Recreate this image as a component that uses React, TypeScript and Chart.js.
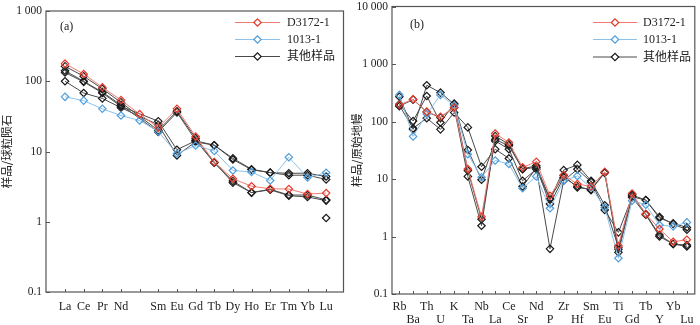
import React, { useEffect, useRef } from 'react';
import { Chart, registerables } from 'chart.js';

Chart.register(...registerables);

// ---------- Panel (a): chondrite-normalised REE ----------
const reeLabels = ['La', 'Ce', 'Pr', 'Nd', '', 'Sm', 'Eu', 'Gd', 'Tb', 'Dy', 'Ho', 'Er', 'Tm', 'Yb', 'Lu'];
const reeD3172 = [178, 127, 82, 54, 34, 22, 40.5, 16.3, 7.1, 4.1, 3.2, 2.95, 2.92, 2.48, 2.56];
const ree1013 = [60, 53, 40.5, 32.5, 27.6, 19.3, 9.3, 12.2, 10.2, 5.37, 5.1, 3.87, 8.3, 4.27, 4.98];
const reeOther1 = [163, 118, 78, 50, null, 20, 37.5, 15.5, 7.0, 3.6, 2.6, 2.9, 2.4, 2.4, 2.05];
const reeOther2 = [141, 100, 70, 46, null, 19, 36, 14.5, 6.9, 3.8, 2.6, 2.85, 2.35, 2.25, 2.0];
const reeOther3 = [133, 98, 68, 44, null, 27, 10.6, 14.2, 12.3, 8.0, 5.6, 5.0, 4.9, 4.9, 4.4];
const reeOther4 = [100, 68, 57, 42, null, 24, 8.8, 13.7, 12.3, 7.7, 5.5, 5.0, 4.6, 4.6, 4.0];
const reeOther5 = [null, null, null, null, null, null, null, null, null, null, null, null, null, null, 1.13];
const reeYTicks = [0.1, 1, 10, 100, 1000];
const reeYTickLabels = ['0.1', '1', '10', '100', '1 000'];

// ---------- Panel (b): primitive-mantle-normalised spider ----------
const spLabels = ['Rb', 'Ba', 'Th', 'U', 'K', 'Ta', 'Nb', 'La', 'Ce', 'Sr', 'Nd', 'P', 'Zr', 'Hf', 'Sm', 'Eu', 'Ti', 'Gd', 'Tb', 'Y', 'Yb', 'Lu'];
const spD3172 = [195, 244, 147, 121, 175, 14.9, 2.2, 62, 43, 15.9, 19.9, 5.1, 11.7, 8.2, 7.4, 13.3, 0.69, 5.6, 2.46, 1.35, 0.81, 0.88];
const sp1013 = [290, 55, 135, 290, 190, 27, 10.7, 21, 18.2, 6.9, 11.1, 3.1, 9.3, 11.3, 7.1, 3.2, 0.42, 4.2, 3.56, 1.58, 1.5, 1.76];
const spOther1 = [185, 240, 147, 117, 175, 11.1, 1.54, 56, 40, 15, 17, 4.5, 11.5, 7.1, 6.6, 13, 0.6, 5.3, 2.45, 1.06, 0.74, 0.71];
const spOther2 = [200, 102, 278, 96, 205, 14, 2.0, 49, 37.7, 14.8, 16, 3.67, 10.6, 7.5, 6.4, 12.8, 0.53, 4.8, 2.4, 1.0, 0.74, 0.67];
const spOther3 = [270, 73, 427, 318, 200, 32, 9.7, 46, 33, 9.3, 14.8, 4.47, 14.3, 17.6, 9.3, 3.5, 0.65, 5.25, 4.3, 2.1, 1.69, 1.44];
const spOther4 = [190, 76, 114, 73, 143, 79, 16.3, 33, 22.8, 7.4, 15.5, 0.61, 9.3, 14.8, 8.9, 2.9, 1.18, 4.9, 4.3, 2.2, 1.65, 1.31];
const spYTicks = [0.1, 1, 10, 100, 1000, 10000];
const spYTickLabels = ['0.1', '1', '10', '100', '1 000', '10 000'];

const legendNames = ['D3172-1', '1013-1', '其他样品'];

const RED_LINE = '#f27a70';
const RED_PT = '#e53b2c';
const BLUE_LINE = '#8cc2ea';
const BLUE_PT = '#4f9fdc';
const BLACK_LINE = '#4a4a4a';
const BLACK_PT = '#1a1a1a';

const FONT = "'Liberation Serif', 'Times New Roman', serif";
const CJK = "'Noto Sans CJK SC', sans-serif";

function series(arr: (number | null)[], line: string, pt: string, showLine = true) {
  return {
    data: arr.map((v, i) => ({ x: i, y: v })),
    borderColor: line,
    borderWidth: 1,
    pointBorderColor: pt,
    pointBackgroundColor: 'rgba(0,0,0,0)',
    pointBorderWidth: 1.2,
    pointRadius: 3.7,
    pointStyle: 'rectRot',
    showLine,
    spanGaps: true,
    tension: 0,
  };
}

function makeConfig(p: {
  labels: string[];
  twoRows: boolean;
  xMin: number;
  xMax: number;
  yMin: number;
  yMax: number;
  yTicks: number[];
  yTickLabels: string[];
  yTitle: string;
  yWidth: number;
  xHeight: number;
  xPad: number;
  padTop: number;
  padRight: number;
  panel: string;
  panelPos: [number, number];
  legend: { x1: number; x2: number; tx: number; ys: number[] };
  datasets: any[];
}) {
  const framePlugin = {
    id: 'frame',
    beforeDatasetsDraw(chart: any) {
      const { ctx, chartArea: a } = chart;
      ctx.save();
      ctx.strokeStyle = '#555';
      ctx.lineWidth = 1.2;
      ctx.strokeRect(a.left, a.top, a.right - a.left, a.bottom - a.top);
      ctx.lineWidth = 1;
      ctx.beginPath();
      const xs = chart.scales.x;
      p.labels.forEach((_, i) => {
        const px = Math.round(xs.getPixelForValue(i)) + 0.5;
        ctx.moveTo(px, a.bottom);
        ctx.lineTo(px, a.bottom - 3);
      });
      const ys = chart.scales.y;
      p.yTicks.forEach((v) => {
        const py = Math.round(ys.getPixelForValue(v)) + 0.5;
        ctx.moveTo(a.left, py);
        ctx.lineTo(a.left + 4, py);
      });
      ctx.stroke();
      ctx.restore();
    },
    afterDraw(chart: any) {
      const { ctx } = chart;
      ctx.save();
      ctx.fillStyle = '#222';
      ctx.font = `12px ${FONT}`;
      ctx.textBaseline = 'middle';
      ctx.textAlign = 'left';
      ctx.fillText(p.panel, p.panelPos[0], p.panelPos[1]);
      const cols = [
        [RED_LINE, RED_PT],
        [BLUE_LINE, BLUE_PT],
        [BLACK_LINE, BLACK_PT],
      ];
      legendNames.forEach((name, k) => {
        const y = p.legend.ys[k];
        ctx.strokeStyle = cols[k][0];
        ctx.lineWidth = 1;
        ctx.beginPath();
        ctx.moveTo(p.legend.x1, y);
        ctx.lineTo(p.legend.x2, y);
        ctx.stroke();
        const cx = (p.legend.x1 + p.legend.x2) / 2;
        const r = 3.7;
        ctx.strokeStyle = cols[k][1];
        ctx.lineWidth = 1.2;
        ctx.fillStyle = '#fff';
        ctx.beginPath();
        ctx.moveTo(cx - r, y);
        ctx.lineTo(cx, y - r);
        ctx.lineTo(cx + r, y);
        ctx.lineTo(cx, y + r);
        ctx.closePath();
        ctx.fill();
        ctx.stroke();
        ctx.fillStyle = '#222';
        ctx.font = `12px ${FONT}, ${CJK}`;
        ctx.fillText(name, p.legend.tx, y + 0.5);
      });
      ctx.restore();
    },
  };

  return {
    type: 'scatter',
    data: { datasets: p.datasets },
    plugins: [framePlugin],
    options: {
      animation: false,
      responsive: true,
      maintainAspectRatio: false,
      layout: { padding: { left: 0, right: p.padRight, top: p.padTop, bottom: 0 } },
      plugins: { legend: { display: false }, tooltip: { enabled: false } },
      scales: {
        x: {
          type: 'linear',
          min: p.xMin,
          max: p.xMax,
          grid: { display: false, drawTicks: false },
          border: { display: false },
          afterBuildTicks: (s: any) => {
            s.ticks = p.labels.map((_, i) => ({ value: i }));
          },
          afterFit: (s: any) => {
            s.height = p.xHeight;
            s.paddingLeft = 0;
            s.paddingRight = 0;
          },
          ticks: {
            autoSkip: false,
            maxRotation: 0,
            minRotation: 0,
            padding: p.xPad,
            color: '#222',
            font: { family: FONT, size: 12, lineHeight: 1.05 },
            callback: (v: any) => {
              const i = Math.round(v);
              const t = p.labels[i] ?? '';
              if (p.twoRows && i % 2 === 1) return ['', t];
              return t;
            },
          },
        },
        y: {
          type: 'logarithmic',
          min: p.yMin,
          max: p.yMax,
          grid: { display: false, drawTicks: false },
          border: { display: false },
          afterBuildTicks: (s: any) => {
            s.ticks = p.yTicks.map((v) => ({ value: v, major: true }));
          },
          afterFit: (s: any) => {
            s.width = p.yWidth;
            s.paddingTop = 0;
            s.paddingBottom = 0;
          },
          ticks: {
            padding: 4,
            color: '#222',
            font: { family: FONT, size: 11.5, lineHeight: 1 },
            callback: (v: any) => {
              const idx = p.yTicks.findIndex((t) => Math.abs(t - v) / t < 1e-6);
              return idx >= 0 ? p.yTickLabels[idx] : '';
            },
          },
          title: {
            display: true,
            text: p.yTitle,
            color: '#222',
            padding: { top: 0, bottom: 0 },
            font: { family: CJK, size: 11.5 },
          },
        },
      },
    },
  } as any;
}

const cfgA = makeConfig({
  labels: reeLabels,
  twoRows: false,
  xMin: -1.02,
  xMax: 14.93,
  yMin: 0.1,
  yMax: 1000,
  yTicks: reeYTicks,
  yTickLabels: reeYTickLabels,
  yTitle: '样品/球粒陨石',
  yWidth: 46,
  xHeight: 33,
  xPad: 9,
  padTop: 11,
  padRight: 6.5,
  panel: '(a)',
  panelPos: [60, 27],
  legend: { x1: 235, x2: 280, tx: 287, ys: [22.5, 39.5, 56.5] },
  datasets: [
    series(reeD3172, RED_LINE, RED_PT),
    series(ree1013, BLUE_LINE, BLUE_PT),
    series(reeOther1, BLACK_LINE, BLACK_PT),
    series(reeOther2, BLACK_LINE, BLACK_PT),
    series(reeOther3, BLACK_LINE, BLACK_PT),
    series(reeOther4, BLACK_LINE, BLACK_PT),
    series(reeOther5, BLACK_LINE, BLACK_PT, false),
  ],
});

const cfgB = makeConfig({
  labels: spLabels,
  twoRows: true,
  xMin: -0.54,
  xMax: 21.58,
  yMin: 0.1,
  yMax: 10000,
  yTicks: spYTicks,
  yTickLabels: spYTickLabels,
  yTitle: '样品/原始地幔',
  yWidth: 42,
  xHeight: 31,
  xPad: 7,
  padTop: 6.5,
  padRight: 2,
  panel: '(b)',
  panelPos: [60, 25],
  legend: { x1: 243, x2: 287, tx: 293, ys: [22.5, 39.5, 57] },
  datasets: [
    series(spD3172, RED_LINE, RED_PT),
    series(sp1013, BLUE_LINE, BLUE_PT),
    series(spOther1, BLACK_LINE, BLACK_PT),
    series(spOther2, BLACK_LINE, BLACK_PT),
    series(spOther3, BLACK_LINE, BLACK_PT),
    series(spOther4, BLACK_LINE, BLACK_PT),
  ],
});

export default function App() {
  const refA = useRef<HTMLCanvasElement>(null);
  const refB = useRef<HTMLCanvasElement>(null);
  useEffect(() => {
    const a = new Chart(refA.current as HTMLCanvasElement, cfgA);
    const b = new Chart(refB.current as HTMLCanvasElement, cfgB);
    return () => {
      a.destroy();
      b.destroy();
    };
  }, []);
  return (
    <div style={{ position: 'absolute', left: 0, top: 0, width: 700, height: 325, background: '#fff' }}>
      <div style={{ position: 'absolute', left: 0, top: 0, width: 350, height: 325 }}>
        <canvas ref={refA} />
      </div>
      <div style={{ position: 'absolute', left: 350, top: 0, width: 350, height: 325 }}>
        <canvas ref={refB} />
      </div>
    </div>
  );
}
